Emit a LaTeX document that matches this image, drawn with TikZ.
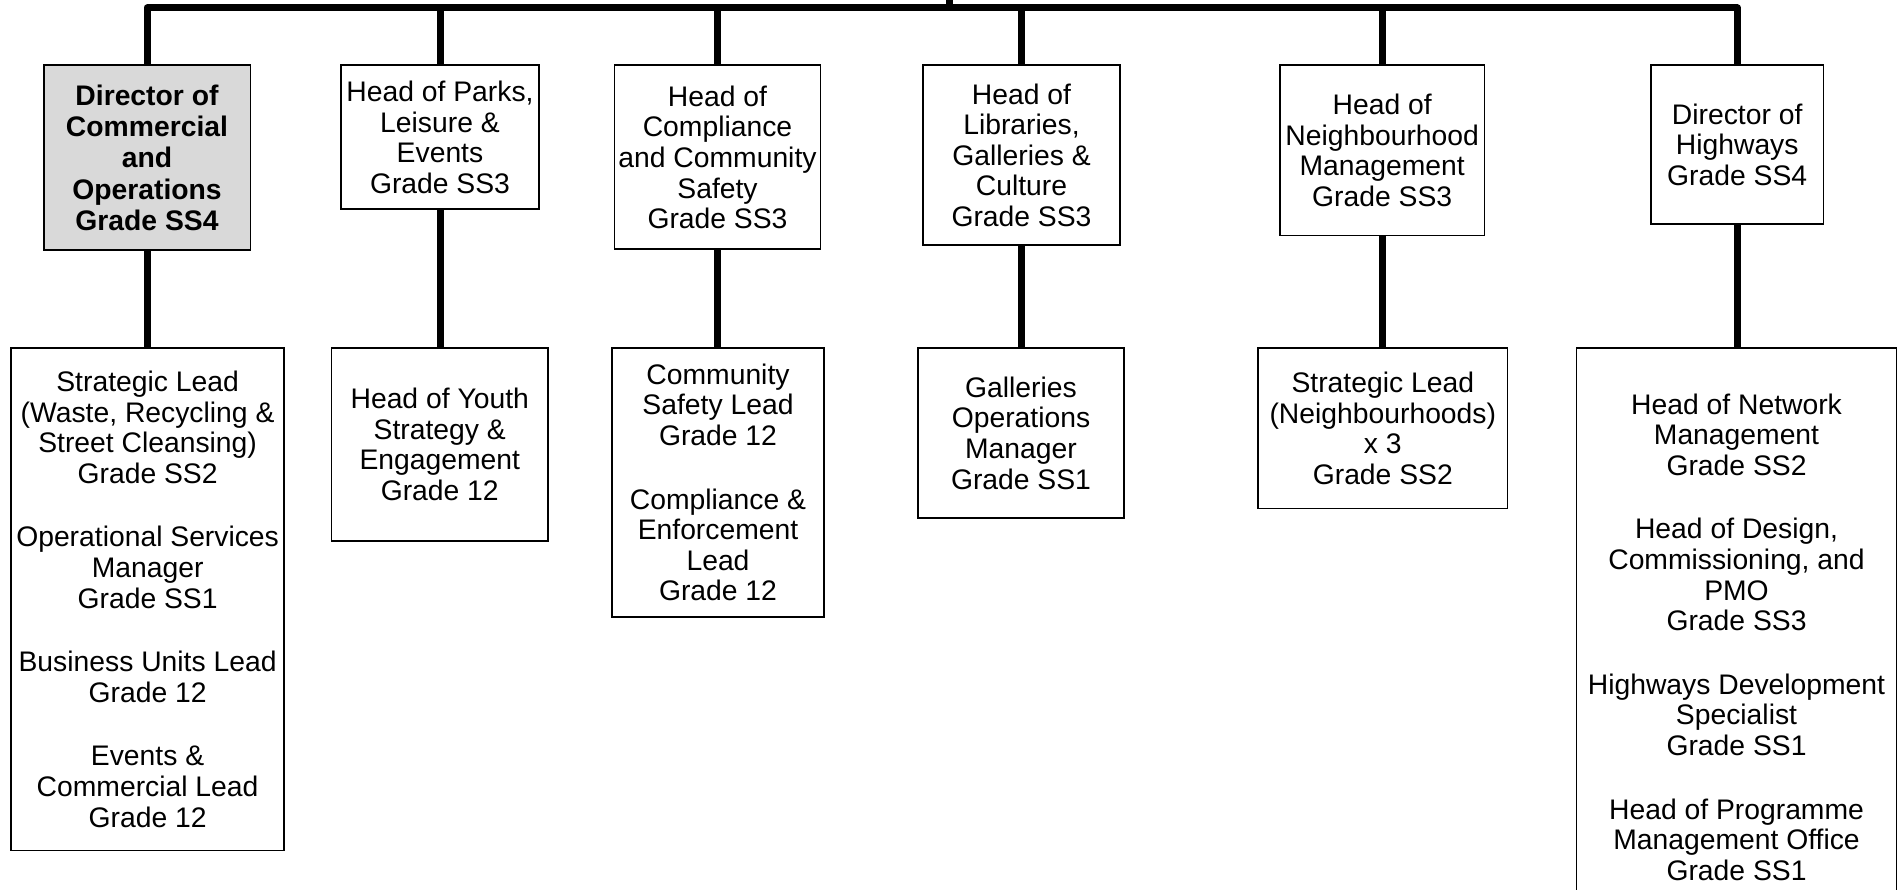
\documentclass[tikz,border=0pt]{standalone}
\usepackage{fontspec}
\setmainfont{Liberation Sans}
\definecolor{dirgray}{RGB}{217,217,217}
\begin{document}
\begin{tikzpicture}[x=1pt,y=-1pt,
  box/.style={draw=black,line width=1.8pt,rectangle,inner sep=0pt,fill=white,
    align=center,font=\fontsize{28.3}{30.6}\selectfont},
  conn/.style={line width=7pt,line join=round}]
\useasboundingbox (0,0) rectangle (1897,890);
% top row
\node[box,fill=dirgray,font=\fontsize{28.3}{31.2}\selectfont\bfseries,minimum width=206.8pt,minimum height=185.1pt] (dir) at (147,157.85)
  {Director of\\Commercial\\and\\Operations\\Grade SS4};
\node[box,minimum width=198pt,minimum height=144pt] (parks) at (440,137.3)
  {Head of Parks,\\Leisure \&\\Events\\Grade SS3};
\node[box,minimum width=206pt,minimum height=184pt] (compl) at (717.5,157.3)
  {Head of\\Compliance\\and Community\\Safety\\Grade SS3};
\node[box,minimum width=197pt,minimum height=179.7pt] (libr) at (1021.5,155.1)
  {Head of\\Libraries,\\Galleries \&\\Culture\\Grade SS3};
\node[box,minimum width=204.5pt,minimum height=170.2pt] (neigh) at (1382.2,150.4)
  {Head of\\Neighbourhood\\Management\\Grade SS3};
\node[box,minimum width=172.5pt,minimum height=158.7pt] (highw) at (1737.2,144.6)
  {Director of\\Highways\\Grade SS4};
% bottom row
\node[box,minimum width=273.4pt,minimum height=502.5pt] (strat) at (147.6,599.25)
  {Strategic Lead\\(Waste, Recycling \&\\Street Cleansing)\\Grade SS2\\[33pt]
   Operational Services\\Manager\\Grade SS1\\[33pt]
   Business Units Lead\\Grade 12\\[33pt]
   Events \&\\Commercial Lead\\Grade 12};
\node[box,minimum width=216.5pt,minimum height=193pt] (youth) at (439.75,444.5)
  {Head of Youth\\Strategy \&\\Engagement\\Grade 12};
\node[box,minimum width=211.7pt,minimum height=269pt] (comm) at (718,482.5)
  {Community\\Safety Lead\\Grade 12\\[33pt]
   Compliance \&\\Enforcement\\Lead\\Grade 12};
\node[box,minimum width=205.7pt,minimum height=170pt] (gall) at (1021,433)
  {Galleries\\Operations\\Manager\\Grade SS1};
\node[box,minimum width=249.2pt,minimum height=160.5pt] (nlead) at (1382.8,428.25)
  {Strategic Lead\\(Neighbourhoods)\\x 3\\Grade SS2};
\node[box,minimum width=320pt,minimum height=578pt] (hlow) at (1736.5,637)
  {Head of Network\\Management\\Grade SS2\\[33pt]
   Head of Design,\\Commissioning, and\\PMO\\Grade SS3\\[33pt]
   Highways Development\\Specialist\\Grade SS1\\[33pt]
   Head of Programme\\Management Office\\Grade SS1};
% connectors
\coordinate (top) at (949,0);
\coordinate (hub) at (949,8);
\draw[conn] (top) -- (hub);
\draw[conn] (dir.north) -- (dir.north |- hub) -- (highw.north |- hub) -- (highw.north);
\foreach \n in {parks,compl,libr,neigh}
  \draw[conn] (\n.north |- hub) -- (\n.north);
\draw[conn] (dir.south) -- (dir.south |- strat.north);
\draw[conn] (parks.south) -- (parks.south |- youth.north);
\draw[conn] (compl.south) -- (compl.south |- comm.north);
\draw[conn] (libr.south) -- (libr.south |- gall.north);
\draw[conn] (neigh.south) -- (neigh.south |- nlead.north);
\draw[conn] (highw.south) -- (highw.south |- hlow.north);
\end{tikzpicture}
\end{document}
